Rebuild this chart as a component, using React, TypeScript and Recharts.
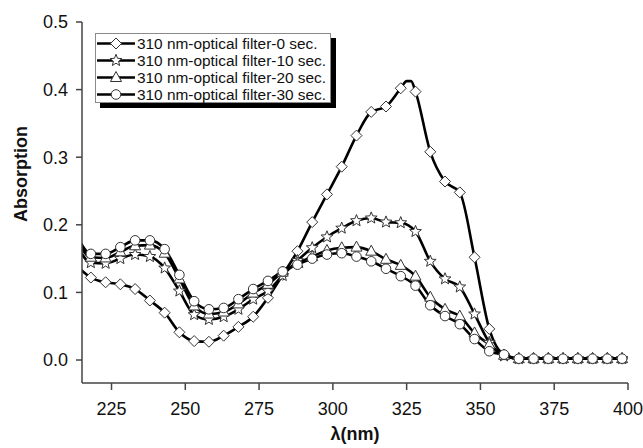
import React from 'react';
import { LineChart, Line, XAxis, YAxis, Legend } from 'recharts';

// wavelength grid (nm), markers every 5 nm; 213 sits just outside the axis and gets clipped
const WAVELENGTHS = [
  213, 218, 223, 228, 233, 238, 243, 248, 253, 258, 263, 268, 273, 278, 283, 288, 293, 298, 303,
  308, 313, 318, 323, 328, 333, 338, 343, 348, 353, 358, 363, 368, 373, 378, 383, 388, 393, 398,
];

const ABS_0S = [
  0.14, 0.122, 0.115, 0.112, 0.105, 0.088, 0.07, 0.041, 0.028, 0.027, 0.036, 0.049, 0.064, 0.092,
  0.126, 0.161, 0.204, 0.245, 0.286, 0.332, 0.367, 0.375, 0.402, 0.397, 0.308, 0.264, 0.248, 0.152,
  0.046, 0.008, 0.002, 0.002, 0.002, 0.002, 0.002, 0.002, 0.002, 0.002,
];
const ABS_10S = [
  0.172, 0.144, 0.143, 0.15, 0.156, 0.153, 0.136, 0.102, 0.067, 0.06, 0.064, 0.075, 0.09, 0.102,
  0.125, 0.147, 0.166, 0.182, 0.195, 0.206, 0.21, 0.204, 0.203, 0.19, 0.146, 0.12, 0.108, 0.068,
  0.026, 0.006, 0.002, 0.002, 0.002, 0.002, 0.002, 0.002, 0.002, 0.002,
];
const ABS_20S = [
  0.18, 0.152, 0.151, 0.16, 0.169, 0.17, 0.158, 0.12, 0.08, 0.068, 0.071, 0.083, 0.099, 0.112,
  0.13, 0.143, 0.153, 0.162, 0.166, 0.167, 0.161, 0.149, 0.14, 0.124, 0.093, 0.075, 0.065, 0.04,
  0.023, 0.007, 0.002, 0.002, 0.002, 0.002, 0.002, 0.002, 0.002, 0.002,
];
const ABS_30S = [
  0.186, 0.157, 0.157, 0.167, 0.177, 0.177, 0.164, 0.126, 0.087, 0.075, 0.077, 0.09, 0.105, 0.117,
  0.131, 0.141, 0.15, 0.156, 0.158, 0.153, 0.146, 0.135, 0.124, 0.11, 0.081, 0.065, 0.053, 0.031,
  0.013, 0.008, 0.002, 0.002, 0.002, 0.002, 0.002, 0.002, 0.002, 0.002,
];

// extra line-only points on the 0 s peak (no marker drawn there)
const PEAK_0S_NM = [325, 326.5];
const PEAK_0S_ABS = [0.4125, 0.4125];

const LEGEND_LABELS = [
  '310 nm-optical filter-0 sec.',
  '310 nm-optical filter-10 sec.',
  '310 nm-optical filter-20 sec.',
  '310 nm-optical filter-30 sec.',
];
const SHAPES = ['diamond', 'star', 'triangle', 'circle'];

const X_TICKS = [225, 250, 275, 300, 325, 350, 375, 400];
const Y_TICKS = [0, 0.1, 0.2, 0.3, 0.4, 0.5];

const FONT = '"Liberation Sans", Arial, sans-serif';

const toPoints = (vals: number[]) => WAVELENGTHS.map((nm, i) => ({ nm, abs: vals[i], mark: true }));

const series0 = [
  ...toPoints(ABS_0S),
  ...PEAK_0S_NM.map((nm, i) => ({ nm, abs: PEAK_0S_ABS[i], mark: false })),
].sort((a, b) => a.nm - b.nm);

const SERIES = [series0, toPoints(ABS_10S), toPoints(ABS_20S), toPoints(ABS_30S)];

function MarkerShape({ shape, cx, cy }: { shape: string; cx: number; cy: number }) {
  const common = { fill: '#fff', stroke: '#333', strokeWidth: 1 };
  if (shape === 'diamond') {
    const r = 5.5;
    return <polygon points={`${cx},${cy - r} ${cx + r},${cy} ${cx},${cy + r} ${cx - r},${cy}`} {...common} />;
  }
  if (shape === 'triangle') {
    return <polygon points={`${cx},${cy - 6} ${cx + 5.5},${cy + 4} ${cx - 5.5},${cy + 4}`} {...common} />;
  }
  if (shape === 'star') {
    const pts: string[] = [];
    for (let k = 0; k < 10; k++) {
      const r = k % 2 === 0 ? 6.2 : 2.7;
      const a = -Math.PI / 2 + (k * Math.PI) / 5;
      pts.push(`${cx + r * Math.cos(a)},${cy + r * Math.sin(a)}`);
    }
    return <polygon points={pts.join(' ')} {...common} />;
  }
  return <circle cx={cx} cy={cy} r={4.8} {...common} />;
}

const renderDot = (shape: string) => (props: any) => {
  const { cx, cy, payload, index } = props;
  const k = `${shape}-${index}`;
  if (!payload || !payload.mark || payload.nm < 215 || cx == null || cy == null) return <g key={k} />;
  return (
    <g key={k}>
      <MarkerShape shape={shape} cx={cx} cy={cy} />
    </g>
  );
};

const LegendBox = () => (
  <div
    style={{
      background: '#fff',
      border: '1px solid #8a8a8a',
      boxShadow: '5px 5px 0 #000',
      width: 234,
      height: 67,
      paddingTop: 1,
      fontFamily: FONT,
      fontSize: 15.4,
      color: '#111',
      overflow: 'visible',
    }}
  >
    {LEGEND_LABELS.map((label, i) => (
      <div key={label} style={{ display: 'flex', alignItems: 'center', height: 17, whiteSpace: 'nowrap' }}>
        <svg width={40} height={17} style={{ flex: 'none' }}>
          <line x1={1} y1={8.5} x2={39} y2={8.5} stroke="#000" strokeWidth={2.6} />
          <MarkerShape shape={SHAPES[i]} cx={20} cy={8.5} />
        </svg>
        <span style={{ marginLeft: 1 }}>{label}</span>
      </div>
    ))}
  </div>
);

const YTitle = () => (
  <text
    transform="translate(21,174) rotate(-90)"
    textAnchor="middle"
    dominantBaseline="central"
    fontFamily={FONT}
    fontWeight="bold"
    fontSize={18}
    fill="#111"
  >
    Absorption
  </text>
);

export default function App() {
  return (
    <div style={{ position: 'fixed', left: 0, top: 0, width: 643, height: 448, background: '#fff' }}>
      <LineChart width={643} height={448} margin={{ top: 22, right: 15, bottom: 25, left: 0 }}>
        <XAxis
          dataKey="nm"
          type="number"
          domain={[215, 400]}
          ticks={X_TICKS}
          allowDataOverflow
          height={40}
          axisLine={{ stroke: '#444', strokeWidth: 1.5 }}
          tickLine={{ stroke: '#444', strokeWidth: 1.5 }}
          tickSize={7}
          tickMargin={12}
          tick={{ fontFamily: FONT, fontSize: 18, fill: '#111' }}
          label={{
            value: 'λ(nm)',
            position: 'bottom',
            offset: 4,
            style: { fontFamily: FONT, fontWeight: 'bold', fontSize: 18, fill: '#111' },
          }}
        />
        <XAxis
          xAxisId="top"
          orientation="top"
          dataKey="nm"
          type="number"
          domain={[215, 400]}
          height={0}
          tick={false}
          tickLine={false}
          axisLine={{ stroke: '#999', strokeWidth: 1 }}
        />
        <YAxis
          type="number"
          domain={[-0.034, 0.5]}
          ticks={Y_TICKS}
          allowDataOverflow
          width={82}
          axisLine={{ stroke: '#444', strokeWidth: 1.5 }}
          tickLine={{ stroke: '#444', strokeWidth: 1.5 }}
          tickSize={6}
          tickMargin={8}
          tickFormatter={(v: number) => v.toFixed(1)}
          tick={{ fontFamily: FONT, fontSize: 18, fill: '#111' }}
          label={{ content: () => <YTitle /> }}
        />
        <YAxis
          yAxisId="right"
          orientation="right"
          type="number"
          domain={[-0.034, 0.5]}
          width={0}
          tick={false}
          tickLine={false}
          axisLine={{ stroke: '#999', strokeWidth: 1 }}
        />
        <Legend
          layout="vertical"
          verticalAlign="middle"
          align="center"
          content={() => <LegendBox />}
          wrapperStyle={{ position: 'absolute', left: 95, top: 33, width: 240, height: 75 }}
        />
        {SERIES.map((data, i) => (
          <Line
            key={SHAPES[i]}
            data={data}
            dataKey="abs"
            type="monotone"
            stroke="#000"
            strokeWidth={2.6}
            dot={renderDot(SHAPES[i])}
            activeDot={false}
            legendType="none"
            isAnimationActive={false}
          />
        ))}
      </LineChart>
    </div>
  );
}
